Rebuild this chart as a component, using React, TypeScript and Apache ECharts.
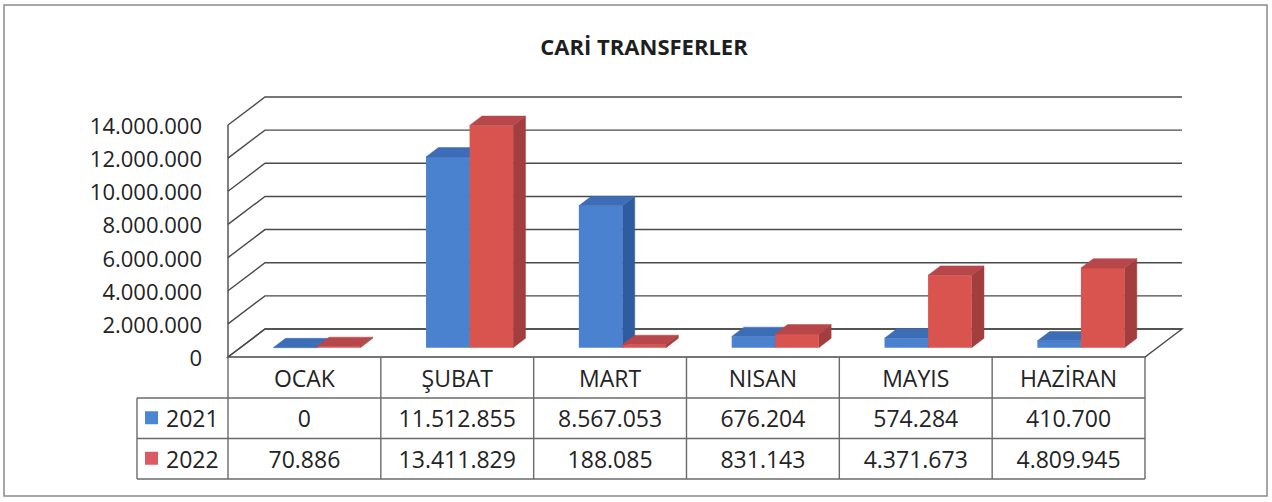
import React, { useEffect, useRef } from "react";
import * as echarts from "echarts";

const title = "CARİ TRANSFERLER";
const categories = ["OCAK", "ŞUBAT", "MART", "NISAN", "MAYIS", "HAZİRAN"];
const seriesNames = ["2021", "2022"];
const values2021 = [0, 11512855, 8567053, 676204, 574284, 410700];
const values2022 = [70886, 13411829, 188085, 831143, 4371673, 4809945];
const yTicks = [0, 2000000, 4000000, 6000000, 8000000, 10000000, 12000000, 14000000];

const FONT = "'Open Sans', 'DejaVu Sans', sans-serif";
const TXT = "#232323";
const LINE = "#4a4a4a";
const TLINE = "#6a6a6a";
const DEPTH = { x: 37, y: -28 };
const FRONT = 1 / 3;
const BACK = 2 / 3;
const COLORS = [
  { front: "#4A82CF", top: "#3C6DB6", side: "#2F5C9E", legend: "#4A86D4" },
  { front: "#D9534F", top: "#B7474A", side: "#A23E3D", legend: "#DB5B62" },
];

const fmt = (n: number) => String(Math.round(n)).replace(/\B(?=(\d{3})+(?!\d))/g, ".");

function barRenderer(idx: number) {
  return (params: any, api: any) => {
    const cat = api.value(0);
    const v = api.value(1);
    const [cx, yTop] = api.coord([cat, v]);
    const y0 = api.coord([cat, 0])[1];
    const band = api.size([1, 0])[0];
    const w = band * 0.285;
    const x0 = idx === 0 ? cx - w : cx;
    const fx = DEPTH.x * FRONT, fy = DEPTH.y * FRONT;
    const bx = DEPTH.x * BACK, by = DEPTH.y * BACK;
    const c = COLORS[idx];
    return {
      type: "group",
      children: [
        {
          type: "polygon",
          shape: { points: [[x0 + w + fx, yTop + fy], [x0 + w + bx, yTop + by], [x0 + w + bx, y0 + by], [x0 + w + fx, y0 + fy]] },
          style: { fill: c.side, stroke: c.side, lineWidth: 0.5 },
        },
        {
          type: "rect",
          shape: { x: x0 + fx, y: yTop + fy, width: w, height: y0 - yTop },
          style: { fill: c.front },
        },
        {
          type: "polygon",
          shape: { points: [[x0 + fx, yTop + fy], [x0 + w + fx, yTop + fy], [x0 + w + bx, yTop + by], [x0 + bx, yTop + by]] },
          style: { fill: c.top, stroke: c.top, lineWidth: 0.5 },
        },
      ],
    };
  };
}

function gridRenderer(params: any, api: any) {
  const cs = params.coordSys;
  const v = api.value(1);
  const y = api.coord([0, v])[1];
  const x = cs.x;
  const right = cs.x + cs.width;
  const children: any[] = [];
  if (v === 0) {
    children.push({
      type: "polygon",
      shape: { points: [[x, y], [right, y], [right + DEPTH.x, y + DEPTH.y], [x + DEPTH.x, y + DEPTH.y]] },
      style: { fill: "#fff", stroke: LINE, lineWidth: 1.4 },
    });
    const yt = api.coord([0, yTicks[yTicks.length - 1]])[1];
    children.push({
      type: "line",
      shape: { x1: x, y1: y, x2: x, y2: yt },
      style: { stroke: LINE, lineWidth: 1.4 },
    });
  }
  children.push({
    type: "polyline",
    shape: { points: [[x, y], [x + DEPTH.x, y + DEPTH.y], [right + DEPTH.x, y + DEPTH.y]] },
    style: { stroke: LINE, lineWidth: 1.4, fill: null },
  });
  return { type: "group", children };
}

const ROW_H = [41, 40.5, 40.5];
const LEGEND_LEFT = 137;

function tableRenderer(params: any, api: any) {
  const cs = params.coordSys;
  const i = api.value(0);
  const cx = api.coord([i, 0])[0];
  const yF = api.coord([i, 0])[1];
  const band = api.size([1, 0])[0];
  const left = cx - band / 2;
  const r1 = yF + ROW_H[0];
  const r2 = r1 + ROW_H[1];
  const r3 = r2 + ROW_H[2];
  const children: any[] = [];
  const ln = (x1: number, y1: number, x2: number, y2: number) => ({
    type: "line",
    shape: { x1, y1, x2, y2 },
    style: { stroke: TLINE, lineWidth: 1.4 },
  });
  const tx = (text: string, x: number, y: number, align = "center") => ({
    type: "text",
    style: { text, x, y, align, verticalAlign: "middle", fill: TXT, fontSize: 23, fontFamily: FONT },
  });
  children.push(ln(left, yF, left, r3));
  if (i === categories.length - 1) children.push(ln(left + band, yF, left + band, r3));
  children.push(tx(categories[i], cx, (yF + r1) / 2));
  children.push(tx(fmt(values2021[i]), cx, (r1 + r2) / 2));
  children.push(tx(fmt(values2022[i]), cx, (r2 + r3) / 2));
  if (i === 0) {
    const right = cs.x + cs.width;
    children.push(ln(LEGEND_LEFT, r1, right, r1));
    children.push(ln(LEGEND_LEFT, r2, right, r2));
    children.push(ln(LEGEND_LEFT, r3, right, r3));
    children.push(ln(LEGEND_LEFT, r1, LEGEND_LEFT, r3));
    [r1, r2].forEach((top, k) => {
      const mid = top + ROW_H[k + 1] / 2;
      children.push({
        type: "rect",
        shape: { x: LEGEND_LEFT + 8, y: mid - 7, width: 13, height: 13 },
        style: { fill: COLORS[k].legend },
      });
      children.push(tx(seriesNames[k], LEGEND_LEFT + 29, mid, "left"));
    });
  }
  return { type: "group", children };
}

export default function App() {
  const ref = useRef<HTMLDivElement>(null);
  useEffect(() => {
    if (!ref.current) return;
    const chart = echarts.init(ref.current, null, { renderer: "svg" });
    chart.setOption({
      animation: false,
      backgroundColor: "#fff",
      title: {
        text: title,
        left: 639,
        textAlign: "center",
        top: 30,
        textStyle: { fontFamily: FONT, fontSize: 22, fontWeight: "bold", color: "#1e1e1e" },
      },
      graphic: [
        {
          type: "rect",
          shape: { x: 4, y: 5, width: 1263, height: 491 },
          style: { fill: "none", stroke: "#8a8a8a", lineWidth: 1.5 },
          silent: true,
          z: -10,
        },
      ],
      grid: { left: 228, right: 127, top: 125, bottom: 145 },
      xAxis: {
        type: "category",
        data: categories,
        boundaryGap: true,
        axisLine: { show: false },
        axisTick: { show: false },
        axisLabel: { show: false },
        splitLine: { show: false },
      },
      yAxis: {
        type: "value",
        min: 0,
        max: 14000000,
        interval: 2000000,
        axisLine: { show: false },
        axisTick: { show: false },
        splitLine: { show: false },
        axisLabel: {
          margin: 26,
          fontFamily: FONT,
          fontSize: 22,
          color: TXT,
          formatter: (v: number) => fmt(v),
        },
      },
      series: [
        {
          type: "custom",
          name: "grid",
          renderItem: gridRenderer,
          data: yTicks.map((v) => [0, v]),
          encode: { x: 0, y: 1 },
          clip: false,
          silent: true,
          z: 1,
        },
        {
          type: "custom",
          name: seriesNames[0],
          renderItem: barRenderer(0),
          data: values2021.map((v, i) => [i, v]),
          encode: { x: 0, y: 1 },
          clip: false,
          z: 2,
        },
        {
          type: "custom",
          name: seriesNames[1],
          renderItem: barRenderer(1),
          data: values2022.map((v, i) => [i, v]),
          encode: { x: 0, y: 1 },
          clip: false,
          z: 3,
        },
        {
          type: "custom",
          name: "table",
          renderItem: tableRenderer,
          data: categories.map((_, i) => [i, 0]),
          encode: { x: 0, y: 1 },
          clip: false,
          silent: true,
          z: 4,
        },
      ],
    });
    return () => chart.dispose();
  }, []);
  return (
    <div
      ref={ref}
      style={{ position: "fixed", left: 0, top: 0, width: 1272, height: 502, background: "#fff" }}
    />
  );
}
